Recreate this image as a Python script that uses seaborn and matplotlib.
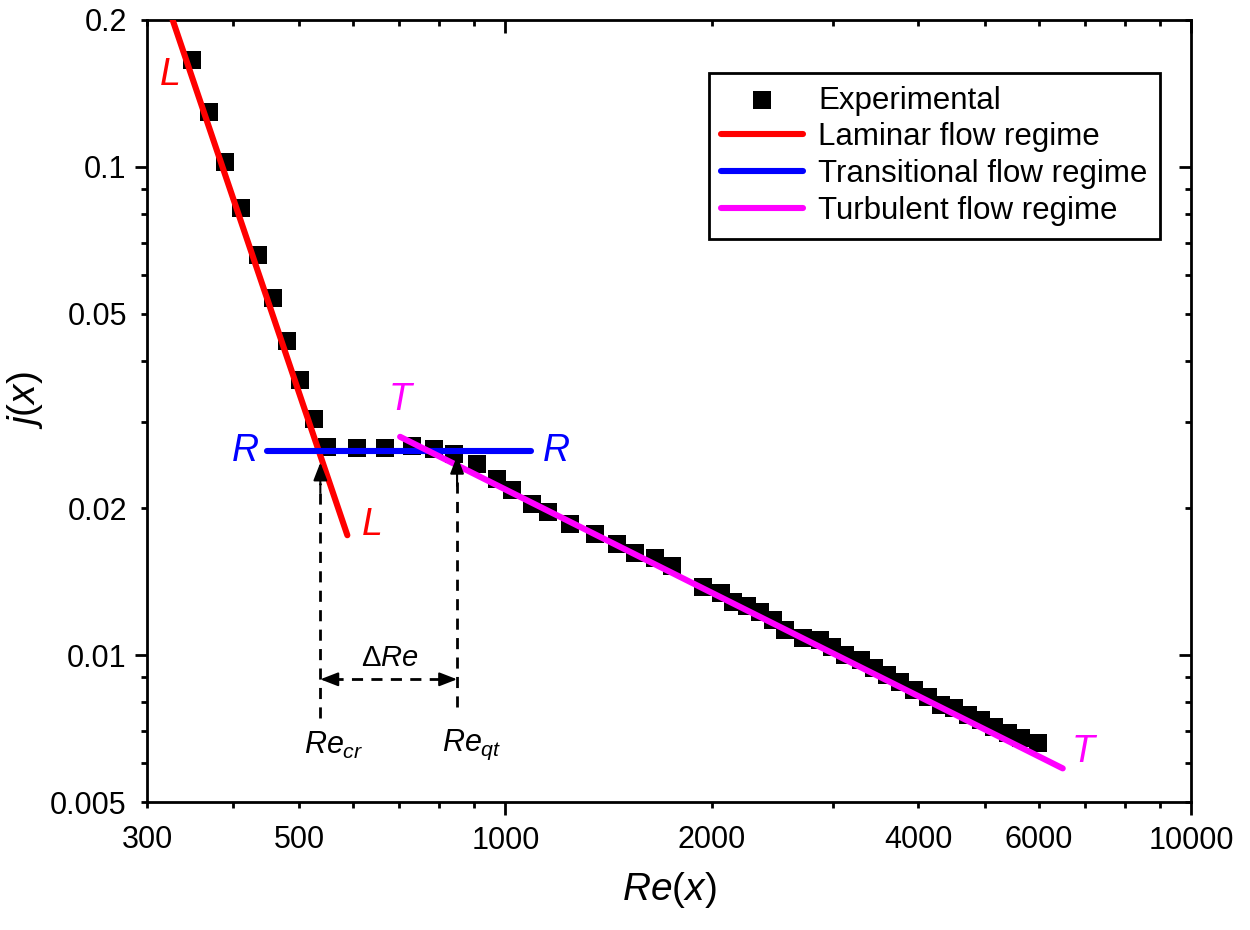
import matplotlib
matplotlib.use("Agg")
import matplotlib.pyplot as plt
import matplotlib.ticker as mticker
import seaborn as sns
import pandas as pd

# ---------------- data ----------------
exp_re = [349, 370, 390, 412, 436, 458, 480, 502, 525, 549,
          607, 667, 730, 787, 840, 909, 971, 1023, 1093, 1154,
          1243, 1352, 1454, 1547, 1655, 1751, 1944, 2065, 2150, 2254,
          2355, 2460, 2561, 2713, 2880, 2999, 3133, 3296, 3443, 3608,
          3769, 3938, 4128, 4313, 4504, 4721, 4932, 5152, 5401, 5643, 5972]
exp_j = [0.1655, 0.1294, 0.1025, 0.0824, 0.0659, 0.0538, 0.0440, 0.0366, 0.0304, 0.0267,
         0.0266, 0.0265, 0.0268, 0.0264, 0.0258, 0.0246, 0.0230, 0.0218, 0.0204, 0.0196,
         0.0186, 0.0177, 0.0169, 0.0162, 0.0158, 0.0152, 0.01377, 0.01339, 0.01283, 0.01259,
         0.01225, 0.01179, 0.01125, 0.01083, 0.01073, 0.01038, 0.0100, 0.00977, 0.00940, 0.00910,
         0.00880, 0.00848, 0.00820, 0.00789, 0.00778, 0.00753, 0.00736, 0.00712, 0.00692, 0.00676, 0.00660]

lam_re = [327, 588]
lam_j = [0.2, 0.0176]
trans_re = [449, 1090]
trans_j = [0.0262, 0.0262]
turb_re = [702, 6500]
turb_j = [0.0280, 0.00586]

re_cr = 537
re_qt = 850

x_labels = [300, 500, 1000, 2000, 4000, 6000, 10000]
y_labels = [0.2, 0.1, 0.05, 0.02, 0.01, 0.005]

# ---------------- style ----------------
sns.set_theme(style="ticks")
plt.rcParams["font.family"] = ["Liberation Sans", "DejaVu Sans"]
plt.rcParams["mathtext.fontset"] = "custom"
plt.rcParams["mathtext.rm"] = "Liberation Sans"
plt.rcParams["mathtext.it"] = "Liberation Sans:italic"
plt.rcParams["mathtext.bf"] = "Liberation Sans:bold"
plt.rcParams["text.color"] = "black"
plt.rcParams["axes.labelcolor"] = "black"
plt.rcParams["xtick.color"] = "black"
plt.rcParams["ytick.color"] = "black"

fig = plt.figure(figsize=(12.5, 9.3), dpi=100)
ax = fig.add_axes([0.1176, 0.1376, 0.8352, 0.8409])

exp_df = pd.DataFrame({"Re": exp_re, "j": exp_j})
sns.scatterplot(data=exp_df, x="Re", y="j", marker="s", s=185, color="black",
                edgecolor="black", linewidth=0, ax=ax, label="Experimental", zorder=2)

lam_df = pd.DataFrame({"Re": lam_re, "j": lam_j})
trans_df = pd.DataFrame({"Re": trans_re, "j": trans_j})
turb_df = pd.DataFrame({"Re": turb_re, "j": turb_j})
sns.lineplot(data=lam_df, x="Re", y="j", color="#ff0000", lw=4.4, ax=ax,
             label="Laminar flow regime", estimator=None, sort=False, zorder=3)
sns.lineplot(data=trans_df, x="Re", y="j", color="#0000ff", lw=4.4, ax=ax,
             label="Transitional flow regime", estimator=None, sort=False, zorder=3)
sns.lineplot(data=turb_df, x="Re", y="j", color="#ff00ff", lw=4.4, ax=ax,
             label="Turbulent flow regime", estimator=None, sort=False, zorder=3,
             solid_capstyle="round")

ax.set_xscale("log")
ax.set_yscale("log")
ax.set_xlim(300, 10000)
ax.set_ylim(0.005, 0.2)

# x ticks
ax.xaxis.set_major_locator(mticker.FixedLocator([1000, 10000]))
x_minor = [300, 400, 500, 600, 700, 800, 900, 2000, 3000, 4000, 5000, 6000, 7000, 8000, 9000]
ax.xaxis.set_minor_locator(mticker.FixedLocator(x_minor))
ax.xaxis.set_major_formatter(mticker.FuncFormatter(lambda v, p: f"{int(round(v))}"))
ax.xaxis.set_minor_formatter(mticker.FuncFormatter(
    lambda v, p: f"{int(round(v))}" if int(round(v)) in x_labels else ""))

# y ticks
ax.yaxis.set_major_locator(mticker.FixedLocator([0.01, 0.1]))
y_minor = [0.005, 0.006, 0.007, 0.008, 0.009, 0.02, 0.03, 0.04, 0.05, 0.06, 0.07, 0.08, 0.09, 0.2]
ax.yaxis.set_minor_locator(mticker.FixedLocator(y_minor))
ax.yaxis.set_major_formatter(mticker.FuncFormatter(lambda v, p: f"{v:g}"))
ax.yaxis.set_minor_formatter(mticker.FuncFormatter(
    lambda v, p: f"{v:g}" if any(abs(v - t) < 1e-9 for t in y_labels) else ""))

for s in ax.spines.values():
    s.set_linewidth(2.0)
    s.set_color("black")

ax.tick_params(axis="both", which="major", direction="out", length=9, width=2,
               labelsize=22, color="black", labelcolor="black")
ax.tick_params(axis="both", which="minor", direction="out", length=4.5, width=2,
               labelsize=22, color="black", labelcolor="black")
ax.tick_params(axis="x", which="minor", pad=12)
ax.tick_params(axis="x", which="major", pad=8)
ax.tick_params(axis="y", which="minor", pad=10)
ax.tick_params(axis="y", which="major", pad=6)
ax.tick_params(which="both", top=True, right=True)
# top/right ticks inward
for t in ax.xaxis.get_major_ticks() + ax.xaxis.get_minor_ticks():
    t.tick2line.set_marker(matplotlib.lines.TICKDOWN)
for t in ax.yaxis.get_major_ticks() + ax.yaxis.get_minor_ticks():
    t.tick2line.set_marker(matplotlib.lines.TICKLEFT)

ax.set_xlabel(r"$Re(x)$", fontsize=28, labelpad=10)
ax.set_ylabel(r"$j(x)$", fontsize=28)
ax.yaxis.set_label_coords(-0.098, 0.514)
ax.grid(False)

# ---------------- annotations ----------------
for xx, yy in [(324, 0.1543), (639, 0.01846)]:
    ax.text(xx, yy, "L", color="#ff0000", fontsize=27, style="italic", ha="center", va="center")
for xx, yy in [(418, 0.0262), (1186, 0.0262)]:
    ax.text(xx, yy, "R", color="#0000ff", fontsize=27, style="italic", ha="center", va="center")
for xx, yy in [(702, 0.0333), (6950, 0.00632)]:
    ax.text(xx, yy, "T", color="#ff00ff", fontsize=27, style="italic", ha="center", va="center")

dash_kw = dict(color="black", lw=2, ls=(0, (4, 3)), zorder=4)
y_arrow = 0.00892
ax.plot([re_cr, re_cr], [0.00743, 0.0225], **dash_kw)
ax.plot([re_qt, re_qt], [0.00783, 0.0232], **dash_kw)
head = dict(arrowstyle="-|>,head_length=0.9,head_width=0.35", color="black", lw=1.5,
            shrinkA=0, shrinkB=0)
ax.annotate("", xy=(re_cr, 0.0248), xytext=(re_cr, 0.0215), arrowprops=head, zorder=5)
ax.annotate("", xy=(re_qt, 0.0256), xytext=(re_qt, 0.0222), arrowprops=head, zorder=5)
ax.plot([re_cr * 1.04, re_qt / 1.04], [y_arrow, y_arrow], **dash_kw)
ax.annotate("", xy=(re_cr, y_arrow), xytext=(re_cr * 1.06, y_arrow), arrowprops=head, zorder=5)
ax.annotate("", xy=(re_qt, y_arrow), xytext=(re_qt / 1.06, y_arrow), arrowprops=head, zorder=5)

ax.text(679, 0.00986, r"$\mathrm{\Delta}Re$", fontsize=21, ha="center", va="center", color="black")
ax.text(561, 0.00654, r"$Re_{cr}$", fontsize=22, ha="center", va="center", color="black")
ax.text(894, 0.00654, r"$Re_{qt}$", fontsize=22, ha="center", va="center", color="black")

# ---------------- legend ----------------
leg = ax.legend(loc="upper right", bbox_to_anchor=(0.928, 0.9215),
                bbox_transform=fig.transFigure, frameon=True, fancybox=False,
                fontsize=22.5, handlelength=2.6, labelspacing=0.22, borderpad=0.4,
                handletextpad=0.5, borderaxespad=0, markerscale=1.0)
leg.get_frame().set_edgecolor("black")
leg.get_frame().set_linewidth(2.0)
leg.get_frame().set_facecolor("white")
leg.get_frame().set_alpha(1)
for txt in leg.get_texts():
    txt.set_color("black")

fig.savefig("out.png", dpi=100)
